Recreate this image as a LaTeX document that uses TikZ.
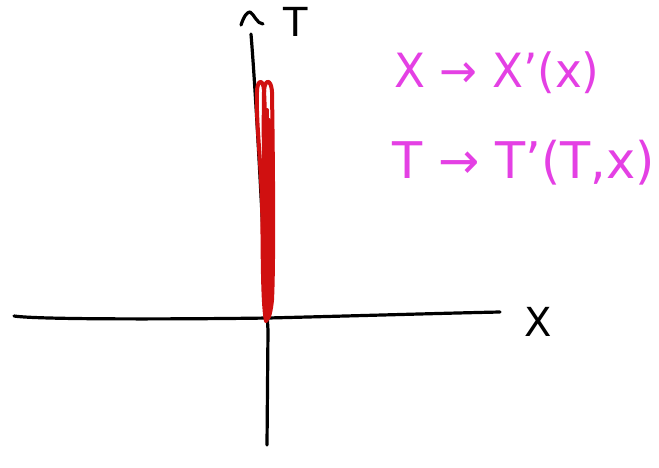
\documentclass[tikz,border=0pt]{standalone}
\usepackage{fontspec}
\usepackage{graphicx}
\setmainfont{DejaVu Sans}
\definecolor{pinkink}{RGB}{228,64,228}
\definecolor{redpen}{RGB}{208,16,16}
\begin{document}
\begin{tikzpicture}[x=1pt,y=-1pt,
  ink/.style={line width=3.2pt, line cap=round, line join=round, black},
  redink/.style={line width=4pt, line cap=round, line join=round, redpen},
  note/.style={text=pinkink, font=\fontsize{40}{44}\selectfont, inner sep=0pt},
  axlabel/.style={text=black, font=\fontsize{40}{42}\selectfont, inner sep=0pt}]
\useasboundingbox[fill=white] (0,0) rectangle (659,467);
% horizontal axis
\coordinate (hl) at (14,316);
\coordinate (hr) at (500,312);
\draw[ink] (hl) .. controls (40,320) and (200,319) .. (268,318) .. controls (350,316) and (450,313) .. (hr);
% vertical axis
\coordinate (vt) at (251,34);
\coordinate (vb) at (267,445);
\draw[ink] (vt) .. controls (258,120) and (266,300) .. (268,330) -- (vb);
% caret arrow head
\coordinate (c1) at (241,25);
\coordinate (c2) at (250,12);
\coordinate (c3) at (263,24);
\draw[ink] (c1) .. controls (244,16) and (247,12) .. (c2) .. controls (254,14) and (257,24) .. (c3);
% red loops
\draw[redink] (266,321) .. controls (262,300) and (263,240) .. (262,200) .. controls (260,150) and (256,120) .. (257,92) .. controls (257,80) and (263,78) .. (264,90) .. controls (267,160) and (270,280) .. (267,320);
\draw[redink] (266,320) .. controls (265,250) and (263,140) .. (264,92) .. controls (264,80) and (271,77) .. (272,92) .. controls (273,160) and (274,260) .. (272,300) .. controls (271,310) and (269,318) .. (268,318);
\draw[redink] (265,305) .. controls (264,240) and (266,180) .. (267,110);
\draw[redink] (270,305) .. controls (271,240) and (270,180) .. (269,120);
% axis labels
\node[axlabel] (tl) at (296,22) {T};
\node[axlabel] (xl) at (538,322) {X};
% notes
\node[note] (n1) at (497,73) {\resizebox*{205pt}{42pt}{X → X'(x)}};
\node[note] (n2) at (524,163) {\resizebox*{262pt}{45pt}{T → T'(T,x)}};
\end{tikzpicture}
\end{document}
